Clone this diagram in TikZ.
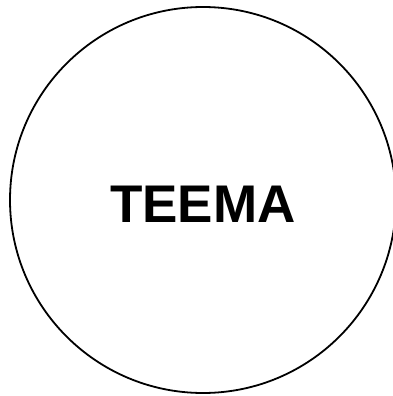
\documentclass[tikz,border=0pt]{standalone}
\usepackage{fontspec}
\setmainfont{Liberation Sans}
\usepackage{tikz}
\usetikzlibrary{positioning}

\begin{document}
\begin{tikzpicture}[
    x=1pt, y=-1pt,
    ring/.style={circle, draw=black, line width=1.8pt, minimum size=386pt, inner sep=0pt},
    lbl/.style={font=\fontsize{53}{57}\selectfont\bfseries}
]
    \useasboundingbox (0,0) rectangle (393,396);
    \node [ring] (c) at (203,200) {};
    \node [lbl] (t) at (203,204) {TEEMA};
\end{tikzpicture}
\end{document}
